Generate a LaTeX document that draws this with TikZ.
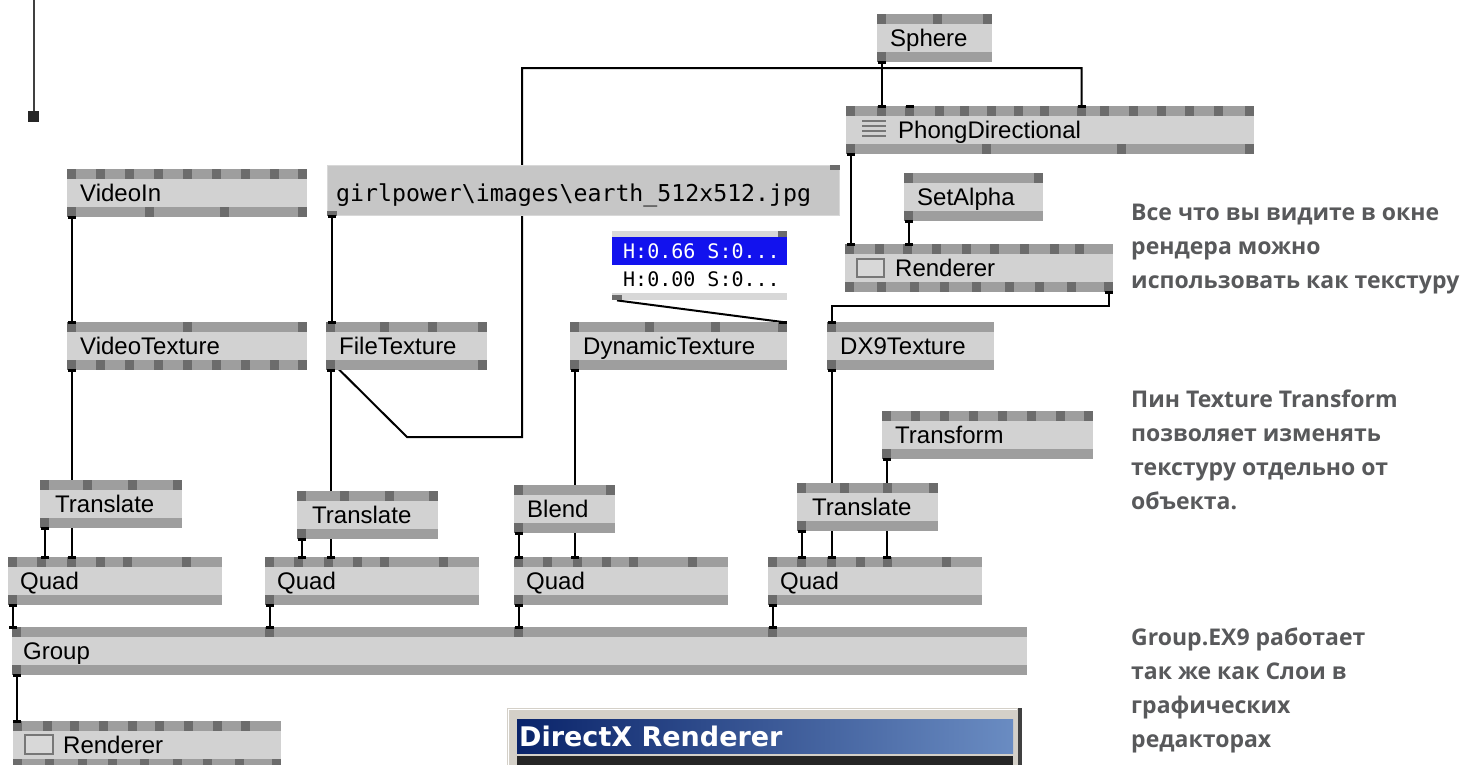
\documentclass[tikz,border=0pt]{standalone}
\usepackage{fontspec}
\setmainfont{Liberation Sans}
\newfontfamily\pinfont{DejaVu Sans Mono}
\newfontfamily\notefont{Open Sans}
\newfontfamily\winfont{DejaVu Sans}
\usetikzlibrary{calc}
\pgfdeclarelayer{wires}
\pgfsetlayers{wires,main}

\definecolor{vbody}{HTML}{D2D2D2}
\definecolor{vbar}{HTML}{9E9E9E}
\definecolor{vpin}{HTML}{6C6C6C}
\definecolor{iofill}{HTML}{C6C6C6}
\definecolor{iostrip}{HTML}{D8D8D8}
\definecolor{selblue}{HTML}{1212EE}
\definecolor{note}{HTML}{58595B}
\definecolor{winface}{HTML}{D4D0C8}
\definecolor{titleL}{HTML}{0A246A}
\definecolor{titleR}{HTML}{6A8CC2}
\definecolor{iconline}{HTML}{777777}

\tikzset{
  vbox/.style={rectangle, fill=vbody, minimum height=48, inner sep=0, outer sep=0},
  vlabel/.style={anchor=base west, inner sep=0, font=\fontsize{24}{24}\selectfont},
  wire/.style={line width=2, black},
  capmark/.style={fill=black},
  notes/.style={anchor=base west, inner sep=0, align=left, text=note,
    font=\notefont\bfseries\fontsize{23}{34}\selectfont},
}

% a patch node: top and bottom pin bars, pins named <name>-t<i> / <name>-b<i>
\newcommand\vvnode[8][13]{%
  \node[vbox, minimum width=#5, anchor=north west] (#2) at (#3,#4) {};
  \fill[vbar] (#2.north west) rectangle ($(#2.north east)+(0,10)$);
  \fill[vbar] ($(#2.south west)+(0,-10)$) rectangle (#2.south east);
  \foreach \p [count=\i] in {#6} {%
    \fill[vpin] ($(#2.north west)+(\p,0)$) rectangle +(9,10);
    \coordinate (#2-t\i) at ($(#2.north west)+(\p+4.5,0)$);}
  \foreach \p [count=\i] in {#7} {%
    \fill[vpin] ($(#2.south west)+(\p,-10)$) rectangle +(9,10);
    \coordinate (#2-b\i) at ($(#2.south west)+(\p+4.5,0)$);}
  \node[vlabel] at ($(#2.north west)+(#1,32.5)$) {#8};
}

\newcommand\wcap[1]{\fill[capmark] ($(#1)+(-4,-1.5)$) rectangle ($(#1)+(4,1.5)$);}

% straight vertical link dropping from an output pin to the pin row below
\newcommand\vwire[2]{%
  \coordinate (#1-to-#2) at (#1 |- #2);
  \begin{pgfonlayer}{wires}\draw[wire] (#1) -- (#1-to-#2);\end{pgfonlayer}
  \wcap{#1}\wcap{#1-to-#2}}

\begin{document}
\begin{tikzpicture}[x=1pt, y=-1pt]
\useasboundingbox (0,0) rectangle (1468,764);
\clip (0,0) rectangle (1468,764);

% ---------- patch nodes ----------
\vvnode{sphere}{877}{14}{115}{0,56,106}{0}{Sphere}
\vvnode[52]{phong}{846}{106}{408}{0,31,59,89,114,141,168,194,231,254,283,311,339,368,399}{0,136,271,399}{PhongDirectional}
\foreach \k in {15,20,25,30}
  \draw[iconline, line width=1.6] ($(phong.north west)+(16,\k)$) -- +(24,0);

\vvnode{videoin}{67}{169}{240}{0,29,58,87,116,145,174,203,231}{0,78,153,231}{VideoIn}
\vvnode{videotex}{67}{322}{240}{0,116,231}{0,29,58,87,116,145,174,203,231}{VideoTexture}
\vvnode{filetex}{326}{322}{161}{0,54,102,152}{0,152}{FileTexture}
\vvnode{dyntex}{570}{322}{217}{0,75,141,208}{0}{DynamicTexture}
\vvnode{setalpha}{904}{173}{139}{0,130}{0}{SetAlpha}
\vvnode[50]{rendtop}{845}{244}{268}{0,30,58,87,117,145,175,205,230}{0,32,65,95,127,160,190,222,259}{Renderer}
\draw[iconline, fill=iostrip, line width=1.5] ($(rendtop.north west)+(12,15)$) rectangle +(27,18);
\vvnode{dx9tex}{827}{322}{167}{0}{0}{DX9Texture}
\vvnode{transform}{882}{411}{211}{0,29,58,87,116,145,174,202}{0}{Transform}

\vvnode[15]{transA}{40}{480}{142}{0,43,88,133}{0}{Translate}
\vvnode[15]{transB}{297}{491}{141}{0,43,88,132}{0}{Translate}
\vvnode{blend}{514}{485}{101}{0,92}{0}{Blend}
\vvnode[15]{transC}{797}{483}{141}{0,43,86,132}{0}{Translate}

\vvnode[12]{quadA}{8}{557}{214}{0,29,59,88,115,174}{0}{Quad}
\vvnode[12]{quadB}{265}{557}{214}{0,29,59,88,115,174}{0}{Quad}
\vvnode[12]{quadC}{514}{557}{214}{0,29,59,88,115,174}{0}{Quad}
\vvnode[12]{quadD}{768}{557}{214}{0,29,59,88,115,174}{0}{Quad}

\vvnode[11]{group}{12}{627}{1015}{0,253,502,756}{0}{Group}
\vvnode[50]{rendbot}{13}{721}{268}{0,30,57,86,115,142,171,200,228}{0,32,65,95,127,160,190,222,259}{Renderer}
\draw[iconline, fill=iostrip, line width=1.5] ($(rendbot.north west)+(12,14)$) rectangle +(28,19);

% ---------- string box with the texture file ----------
\node[rectangle, fill=iofill, draw=iostrip, line width=1, minimum width=512, minimum height=50,
      anchor=north west, inner sep=0] (path) at (327,165) {};
\fill[vpin] ($(path.north east)+(-10,0)$) rectangle +(10,5);
\fill[vpin] ($(path.south west)+(0,-5)$) rectangle +(10,5);
\coordinate (path-b1) at ($(path.south west)+(5,0)$);
\node[anchor=base west, inner sep=0, font=\pinfont\fontsize{23.2}{24}\selectfont]
  at ($(path.north west)+(9,36)$) {girlpower\textbackslash images\textbackslash earth\_512x512.jpg};

% ---------- colour spread box ----------
\node[rectangle, fill=iostrip, minimum width=175, minimum height=69, anchor=north west, inner sep=0] (hsv) at (612,231) {};
\fill[selblue] ($(hsv.north west)+(0,6)$) rectangle ($(hsv.north east)+(0,34)$);
\fill[white] ($(hsv.north west)+(0,34)$) rectangle ($(hsv.north east)+(0,62)$);
\fill[vpin] ($(hsv.north east)+(-9,0)$) rectangle +(9,6);
\fill[vpin] ($(hsv.south west)+(0,-5)$) rectangle +(10,5);
\coordinate (hsv-b1) at ($(hsv.south west)+(5,0)$);
\node[anchor=base west, inner sep=0, text=white, font=\pinfont\fontsize{20}{20}\selectfont]
  at ($(hsv.north west)+(11,27.5)$) {H:0.66 S:0...};
\node[anchor=base west, inner sep=0, font=\pinfont\fontsize{20}{20}\selectfont]
  at ($(hsv.north west)+(11,55)$) {H:0.00 S:0...};

% ---------- links ----------
\vwire{sphere-b1}{phong-t2}
\wcap{phong-t3}
\coordinate (ftbend) at (407,437);
\coordinate (ftrise) at (522,437);
\coordinate (fttop) at (522,68);
\begin{pgfonlayer}{wires}
  \draw[wire] ($(filetex-b1)+(0,-9)$) -- (ftbend) -- (ftrise) -- (fttop) -| (phong-t9);
  \draw[wire] (hsv-b1) -- (dyntex-t4);
  \draw[wire] (rendtop-b9) -- ++(0,14) -| (dx9tex-t1);
\end{pgfonlayer}
\wcap{phong-t9}
\wcap{dyntex-t4}
\wcap{rendtop-b9}
\wcap{dx9tex-t1}

\vwire{videoin-b1}{videotex-t1}
\vwire{path-b1}{filetex-t1}
\vwire{phong-b1}{rendtop-t1}
\vwire{setalpha-b1}{rendtop-t3}
\vwire{videotex-b1}{quadA-t3}
\vwire{transA-b1}{quadA-t2}
\vwire{filetex-b1}{quadB-t3}
\vwire{transB-b1}{quadB-t2}
\vwire{dyntex-b1}{quadC-t3}
\vwire{blend-b1}{quadC-t1}
\vwire{dx9tex-b1}{quadD-t3}
\vwire{transC-b1}{quadD-t2}
\vwire{transform-b1}{quadD-t5}
\vwire{quadA-b1}{group-t1}
\vwire{quadB-b1}{group-t2}
\vwire{quadC-b1}{group-t3}
\vwire{quadD-b1}{group-t4}
\vwire{group-b1}{rendbot-t1}

% loose link entering from the top edge
\coordinate (stubtop) at (33.5,0);
\node[rectangle, fill=black!85, minimum size=11, inner sep=0] (stubpin) at (33.5,116.5) {};
\draw[black!75, line width=2] (stubtop) -- (stubpin);

% ---------- renderer window ----------
\node[rectangle, fill=winface, minimum width=515, minimum height=70, anchor=north west, inner sep=0] (dxwin) at (507,708) {};
\draw[white, line width=1.5] ($(dxwin.south west)+(1.5,0)$) -- ($(dxwin.north west)+(1.5,1.5)$) -- ($(dxwin.north east)+(-5,1.5)$);
\fill[black!75] ($(dxwin.north east)+(-4,0)$) rectangle (dxwin.south east);
\node[rectangle, minimum width=496, minimum height=34, anchor=north west, inner sep=0,
      left color=titleL, right color=titleR] (dxtitle) at (517,719) {};
\node[anchor=base west, inner sep=0, text=white, font=\winfont\bfseries\fontsize{27}{27}\selectfont]
  at ($(dxtitle.west)+(2,10)$) {DirectX Renderer};
\fill[black!85] ($(dxtitle.south west)+(0,3)$) rectangle ($(dxtitle.south east)+(0,14)$);

% ---------- notes (anchored on the baseline of their last line) ----------
\node[notes] (noteA) at (1131,288) {Все что вы видите в окне\\рендера можно\\использовать как текстуру};
\node[notes] (noteB) at (1131,509) {Пин Texture Transform\\позволяет изменять\\текстуру отдельно от\\объекта.};
\node[notes] (noteC) at (1131,747) {Group.EX9 работает\\так же как Слои в\\графических\\редакторах};
\end{tikzpicture}
\end{document}
